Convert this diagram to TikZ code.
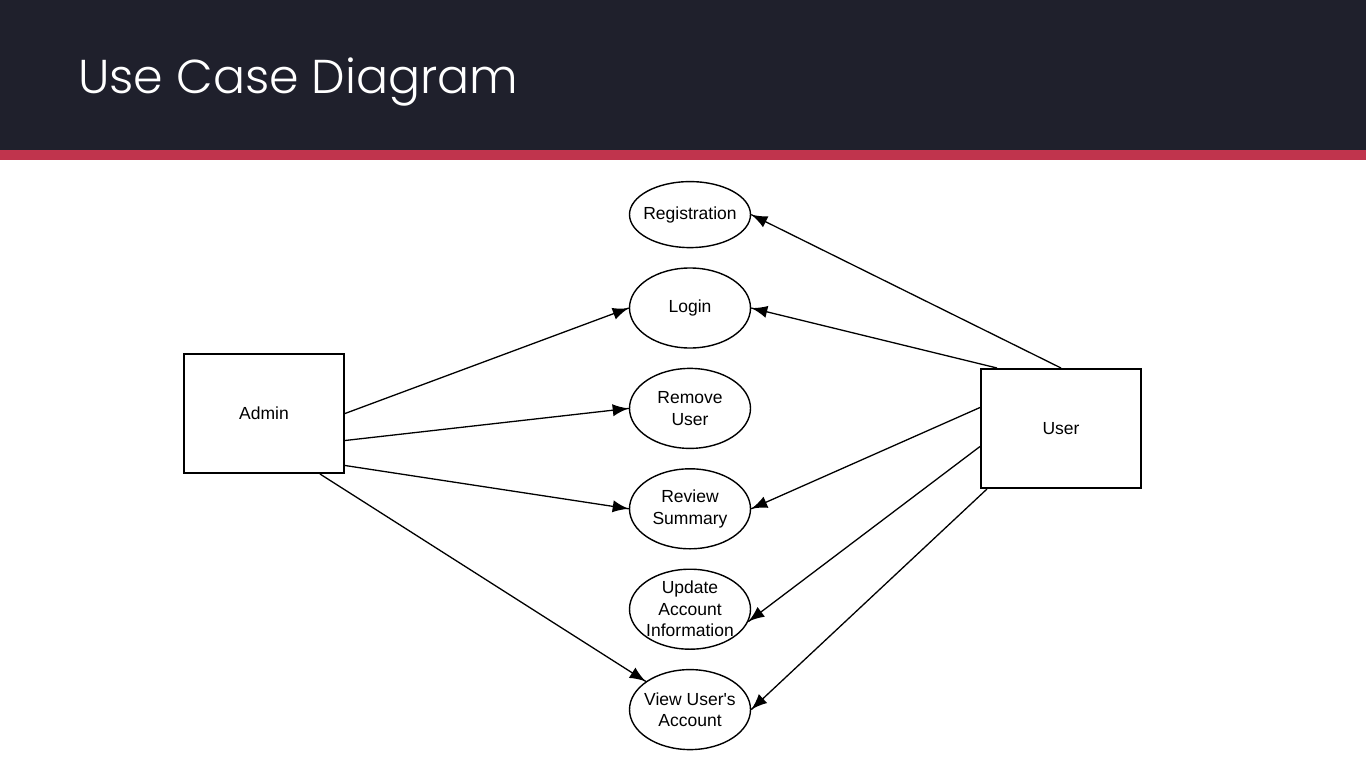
\documentclass[tikz,border=0pt]{standalone}
\usepackage{fontspec}
\setmainfont{Liberation Sans}
\newfontfamily\titlefont{Poppins Light}
\usepackage{tikz}
\usetikzlibrary{arrows}
\usetikzlibrary{decorations.markings}
\usetikzlibrary{positioning}
\usetikzlibrary{shapes.geometric}
\definecolor{banner}{RGB}{31,32,44}
\definecolor{stripe}{RGB}{192,52,77}
\tikzset{->/.style = {decoration={markings,
                                  mark=at position 1 with {\arrow[scale=2.4]{latex}}},
                      postaction={decorate}}}
\tikzset{usecase/.style = {draw, ellipse, line width = 1.4, minimum width = 121, minimum height = 80,
                           inner xsep = -9, inner ysep = -3, align = center,
                           font = \fontsize{17.5}{21.5}\selectfont}}
\tikzset{actor/.style = {draw, rectangle, line width = 2, minimum width = 160, minimum height = 119,
                         font = \fontsize{17.5}{21.5}\selectfont}}

\begin{document}
\begin{tikzpicture}[x = 1pt, y = -1pt]
      \useasboundingbox [fill = white] (0, 0) rectangle (1366, 768);
      \fill [banner] (0, 0) rectangle (1366, 150);
      \fill [stripe] (0, 150) rectangle (1366, 160);
      \node [anchor = base west, text = white, inner sep = 0,
             font = \titlefont\fontsize{47.5}{56}\selectfont] (title) at (78, 94) {Use Case Diagram};
      % use cases
      \node [usecase] (login) at (690, 308) {Login};
      \node [usecase, minimum height = 66, above = 19pt of login] (registration) {Registration};
      \node [usecase, below = 19pt of login] (remove) {Remove\\User};
      \node [usecase, below = 19pt of remove] (review) {Review\\Summary};
      \node [usecase, below = 19pt of review, inner ysep = -10] (update) {Update\\Account\\Information};
      \node [usecase, below = 19pt of update] (view) {View User\textquotesingle s\\Account};
      % actors
      \node [actor] (admin) at (264, 413.5) {Admin};
      \node [actor] (user) at (1061, 428.5) {User};
      % admin links
      \draw [->, line width = 1.3] (admin.east) -- (login.west);
      \draw [->, line width = 1.3] ([yshift = -27]admin.east) -- (remove.west);
      \draw [->, line width = 1.3] ([yshift = -52]admin.east) -- (review.west);
      \draw [->, line width = 1.3] ([xshift = 56]admin.south) -- (view);
      % user links
      \draw [->, line width = 1.3] (user.north) -- (registration.east);
      \draw [->, line width = 1.3] ([xshift = 17]user.north west) -- (login.east);
      \draw [->, line width = 1.3] ([yshift = 21]user.west) -- (review.east);
      \draw [->, line width = 1.3] ([yshift = -18]user.west) -- (update.-12);
      \draw [->, line width = 1.3] ([xshift = 7]user.south west) -- (view.east);
    \end{tikzpicture}
\end{document}
